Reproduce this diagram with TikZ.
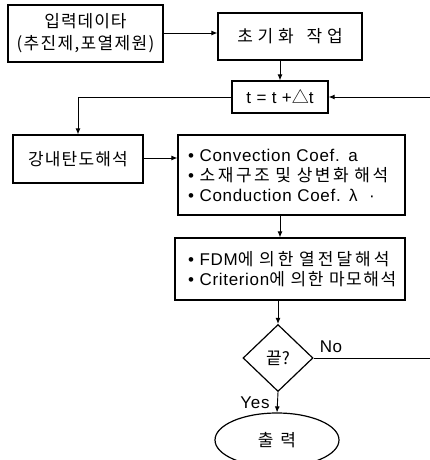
\documentclass[tikz,border=0pt]{standalone}
\usepackage{fontspec}
\setmainfont{Liberation Sans}[LetterSpace=4]
\newfontfamily\krfont{Noto Sans CJK KR}[WordSpace=1.5]
\newcommand{\hg}[2][0]{{\krfont\addfontfeature{LetterSpace=#1}#2}}
\usetikzlibrary{shapes.geometric,arrows.meta}

\tikzset{
    box/.style={draw, line width=1.2pt, inner sep=0pt, align=center},
    arr/.style={line width=0.9pt, -{Latex[length=6pt,width=5pt]}},
    link/.style={line width=0.9pt}
}

\begin{document}
\begin{tikzpicture}[x=1pt, y=-1pt, font=\fontsize{17}{20}\selectfont]
    \useasboundingbox (0,0) rectangle (429,460);

    % Input and initialisation
    \node[box, minimum width=155pt, minimum height=57pt, font=\fontsize{17}{22}\selectfont]
        (input) at (85.5,33.5) {\hg[6]{입력데이타}\\\hg[8]{(추진제,포열제원)}};
    \node[box, minimum width=144pt, minimum height=47pt] (init) at (290,36.5)
        {\hg[28]{초기화 작업}};

    % Time step
    \node[box, minimum width=96pt, minimum height=32pt] (step) at (280,97)
        {t = t +\hg{△}t};

    % Interior ballistics and heat models
    \node[box, minimum width=130pt, minimum height=48pt] (ballistic) at (78,159)
        {\hg[7]{강내탄도해석}};
    \node[box, minimum width=227pt, minimum height=80pt, text width=207pt,
          inner xsep=10pt, align=left] (model) at (291.5,175)
        {\mbox{• Convection Coef. a}\\\mbox{• \hg[15]{소재구조 및 상변화 해석}}\\\mbox{• Conduction Coef. λ \ ·}};
    \node[box, minimum width=230pt, minimum height=62pt, text width=204pt,
          inner xsep=13pt, align=left] (fdm) at (290,269)
        {\mbox{• FDM\hg[18]{에 의한 열전달해석}}\\\mbox{• Criterion\hg[9]{에 의한 마모해석}}};

    % Decision and output
    \node[draw, diamond, line width=1.2pt, inner sep=0pt, minimum width=70pt,
          minimum height=67pt] (done) at (278,358) {\hg{끝?}};
    \node[draw, ellipse, line width=1.2pt, minimum width=124pt,
          minimum height=54pt] (out) at (277,440) {\hg[4]{출 력}};
    \coordinate (loop) at (431,358);

    % Connectors
    \draw[arr] (input.east |- 0,33) -- (init.west |- 0,33);
    \draw[arr] (init.south -| step) -- (step.north);
    \draw[arr] (step.west) -| (ballistic.north);
    \draw[arr] (ballistic.east |- 0,158) -- (model.west |- 0,158);
    \draw[arr] (model.south -| 280,0) -- (fdm.north -| 280,0);
    \draw[arr] (fdm.south -| done) -- (done.north);
    \draw[arr] (done.south) -- (out.north);
    \draw[link] (done.east) -- (loop);
    \draw[arr] (loop) |- (step.east);

    % Branch labels
    \node (no) at (331,347) {No};
    \node (yes) at (255,403) {Yes};
\end{tikzpicture}
\end{document}
